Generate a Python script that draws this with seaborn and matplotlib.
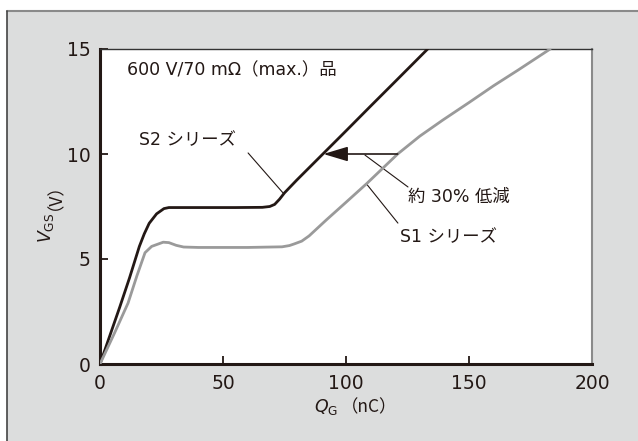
import matplotlib
matplotlib.use("Agg")
import matplotlib.pyplot as plt
from matplotlib.patches import Rectangle
import seaborn as sns
import pandas as pd

# ---- data ----
q_s2 = [0, 4, 8, 12, 16, 18, 20, 23, 26, 28, 40, 55, 66, 69, 71, 73, 75, 80, 90, 100, 110, 120, 133.2]
v_s2 = [0, 1.35, 2.7, 4.1, 5.6, 6.2, 6.7, 7.15, 7.4, 7.45, 7.45, 7.45, 7.46, 7.5, 7.6, 7.85, 8.15, 8.76, 9.93, 11.1, 12.28, 13.45, 15.0]

q_s1 = [0, 6, 11.4, 15, 18.3, 21, 25.7, 28, 31, 34, 40, 60, 74, 77, 79, 82, 85, 92, 100, 108.5, 121, 130, 139.4, 150, 160, 170, 183]
v_s1 = [0, 1.5, 2.9, 4.2, 5.3, 5.6, 5.8, 5.78, 5.65, 5.57, 5.55, 5.55, 5.58, 5.64, 5.72, 5.85, 6.1, 6.86, 7.7, 8.6, 10.0, 10.85, 11.62, 12.45, 13.25, 14.0, 15.0]

series_names = ["S2", "S1"]
x_ticks = [0, 50, 100, 150, 200]
y_ticks = [0, 5, 10, 15]

df = pd.concat([
    pd.DataFrame({"QG": q_s2, "VGS": v_s2, "series": "S2"}),
    pd.DataFrame({"QG": q_s1, "VGS": v_s1, "series": "S1"}),
], ignore_index=True)

sns.set_style("ticks")
plt.rcParams["font.family"] = ["DejaVu Sans", "Noto Sans CJK JP"]

DARK = "#231815"
GRAY_LINE = "#9a9a9a"
CJK = ["Noto Sans CJK JP", "DejaVu Sans"]

fig = plt.figure(figsize=(6.38, 4.41), dpi=100, facecolor="white")
W, H = 638, 441

# gray panel background (in its own background axes, pixel coordinates)
bg = fig.add_axes([0, 0, 1, 1], zorder=-10)
bg.set_xlim(0, W)
bg.set_ylim(H, 0)
bg.axis("off")
bg.add_patch(Rectangle((6.5, 10.5), W, H, facecolor="#dcdddd", edgecolor="none"))
bg.plot([6.5, W], [10.5, 10.5], color="#8a8a8a", lw=1.5)
bg.plot([6.5, 6.5], [10.5, H], color="#444444", lw=1.2)

# axis titles (built from pieces so the full-width brackets render)
bg.text(338, 407, r"$Q_{\mathrm{G}}$", fontsize=12.5, color=DARK, ha="right", va="center")
bg.text(341, 407, "（nC）", fontsize=12.5, color=DARK, ha="left", va="center", family=CJK)
bg.text(46, 213, r"$V_{\mathrm{GS}}$", fontsize=12.5, color=DARK, rotation=90,
        rotation_mode="anchor", ha="right", va="center")
bg.text(46, 210, "（V）", fontsize=12.5, color=DARK, rotation=90,
        rotation_mode="anchor", ha="left", va="center", family=CJK)

ax = fig.add_axes([100 / W, (H - 364) / H, 492 / W, 315 / H], zorder=1)
ax.set_facecolor("white")

sns.lineplot(data=df, x="QG", y="VGS", hue="series", hue_order=series_names,
             palette={"S2": DARK, "S1": GRAY_LINE}, sort=False, estimator=None,
             legend=False, linewidth=2.0, ax=ax, zorder=3)

ax.set_xlim(0, 200)
ax.set_ylim(0, 15)
ax.set_xticks(x_ticks)
ax.set_yticks(y_ticks)
ax.set_xlabel("")
ax.set_ylabel("")

for s in ["left", "bottom"]:
    ax.spines[s].set_linewidth(2.2)
    ax.spines[s].set_color(DARK)
ax.spines["top"].set_linewidth(1.0)
ax.spines["top"].set_color("#333333")
ax.spines["right"].set_linewidth(1.5)
ax.spines["right"].set_color("#8a8a8a")

ax.tick_params(direction="in", length=6, width=1.3, color=DARK, labelcolor=DARK,
               labelsize=13.5)
ax.tick_params(axis="x", pad=7)
ax.tick_params(axis="y", pad=7)

fs = 12.5
ax.text(11, 14.0, "600 V/70 mΩ（max.）品", fontsize=fs, color=DARK, va="center", ha="left")
ax.text(15.9, 10.67, "S2 シリーズ", fontsize=fs, color=DARK, va="center", ha="left")
ax.plot([60.2, 74.6], [10.05, 8.12], color=DARK, lw=0.8, zorder=2)

ax.annotate("", xy=(90.8, 10.0), xytext=(121, 10.0),
            arrowprops=dict(arrowstyle="-|>,head_length=1.0,head_width=0.3",
                            mutation_scale=15, color=DARK, lw=1.2,
                            shrinkA=0, shrinkB=0), zorder=4)
ax.text(125.2, 7.95, "約 30% 低減", fontsize=fs, color=DARK, va="center", ha="left")
ax.plot([107.7, 125.2], [9.95, 8.43], color=DARK, lw=0.8, zorder=2)

ax.text(122, 6.02, "S1 シリーズ", fontsize=fs, color=DARK, va="center", ha="left")
ax.plot([108.5, 121.1], [8.55, 6.71], color=DARK, lw=0.8, zorder=2)

fig.savefig("out.png", dpi=100, facecolor=fig.get_facecolor())
